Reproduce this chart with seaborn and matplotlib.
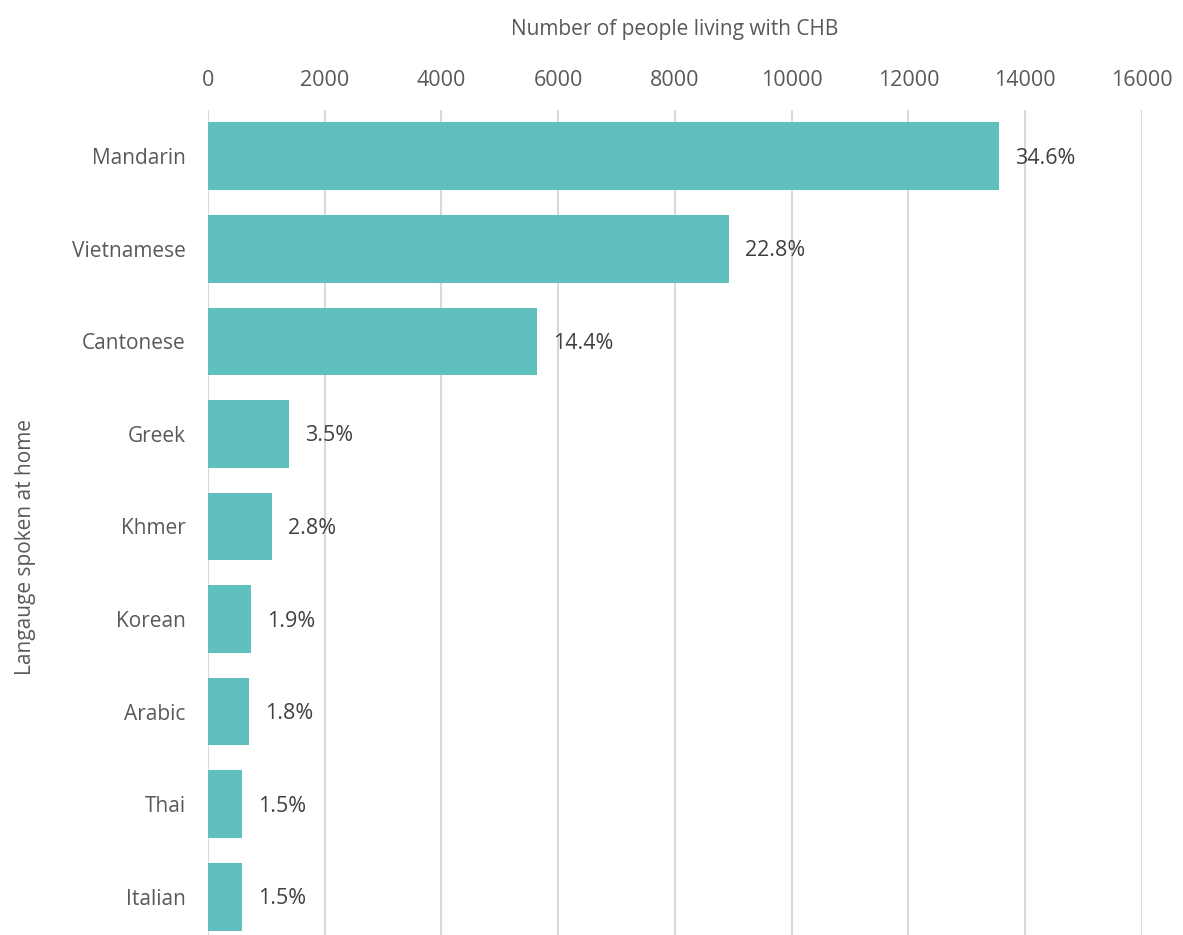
import matplotlib
matplotlib.use("Agg")
import matplotlib.pyplot as plt
import seaborn as sns
import pandas as pd

languages = ["Mandarin", "Vietnamese", "Cantonese", "Greek", "Khmer", "Korean", "Arabic", "Thai", "Italian"]
people = [13550, 8925, 5636, 1385, 1096, 745, 705, 585, 580]
pct_labels = ["34.6%", "22.8%", "14.4%", "3.5%", "2.8%", "1.9%", "1.8%", "1.5%", "1.5%"]
x_ticks = [0, 2000, 4000, 6000, 8000, 10000, 12000, 14000, 16000]

sns.set_theme(style="white")
plt.rcParams['font.family'] = ['Open Sans', 'DejaVu Sans']

df = pd.DataFrame({"lang": languages, "n": people})

fig = plt.figure(figsize=(11.83, 9.35), dpi=100)
ax = fig.add_axes([0.1758, -0.0086, 0.7895, 0.891])

sns.barplot(data=df, x="n", y="lang", orient="h", color="#60C0BD", saturation=1,
            width=0.73, ax=ax, zorder=3, edgecolor="none")

ax.set_xlim(0, 16000)
ax.set_xticks(x_ticks)
ax.xaxis.tick_top()
ax.xaxis.set_label_position("top")
ax.set_xlabel("Number of people living with CHB", fontsize=15, color="#595959", labelpad=25)
ax.set_ylabel("Langauge spoken at home", fontsize=15, color="#595959")
ax.yaxis.set_label_coords(-0.184, 0.475)
ax.tick_params(axis="x", length=0, labelsize=15.5, labelcolor="#595959", pad=14)
ax.tick_params(axis="y", length=0, labelsize=15, labelcolor="#595959", pad=16)
ax.grid(axis="x", color="#D9D9D9", linewidth=1.5, zorder=0)
ax.set_axisbelow(True)
for s in ax.spines.values():
    s.set_visible(False)

for i, (v, lab) in enumerate(zip(people, pct_labels)):
    ax.annotate(lab, xy=(v, i), xytext=(16, -2), textcoords="offset pixels",
                va="center", ha="left", fontsize=15.5, color="#404040")

fig.savefig("out.png", dpi=100)
